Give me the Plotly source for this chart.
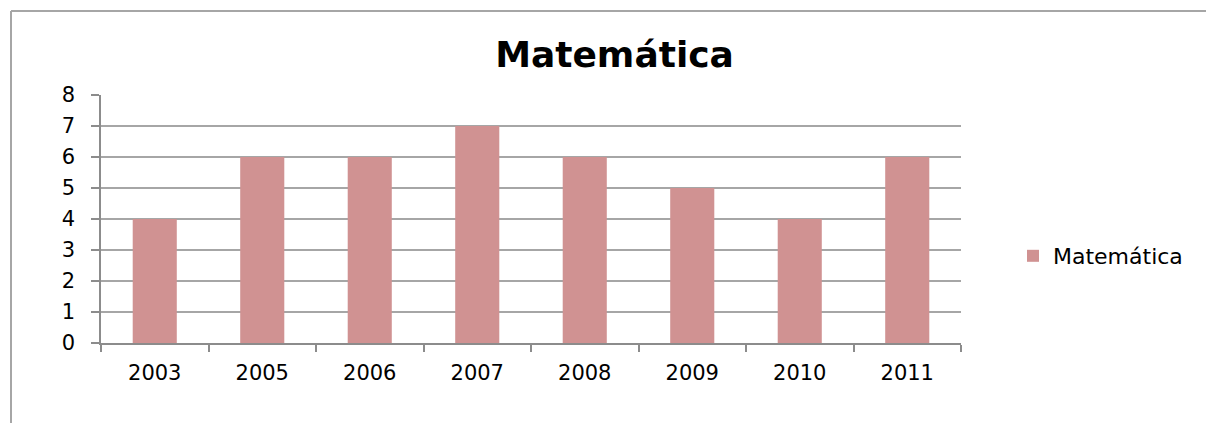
import plotly.graph_objects as go

years = ["2003", "2005", "2006", "2007", "2008", "2009", "2010", "2011"]
values = [4, 6, 6, 7, 6, 5, 4, 6]
series_name = "Matemática"

W, H = 1206, 423
L, R, T, B = 101, 961, 95, 343

fig = go.Figure(go.Bar(x=years, y=values, name=series_name,
                       marker=dict(color="#D09292", line=dict(width=0))))

def px_x(px):
    return (px - L) / (R - L)

def px_y(py):
    return (B - py) / (B - T)

frame = "#A6A6A6"
fig.add_shape(type="line", xref="paper", yref="paper",
              x0=px_x(11), x1=px_x(1212), y0=px_y(11), y1=px_y(11),
              line=dict(color=frame, width=2))
fig.add_shape(type="line", xref="paper", yref="paper",
              x0=px_x(11), x1=px_x(11), y0=px_y(11), y1=px_y(430),
              line=dict(color=frame, width=2))

font = "DejaVu Sans, Verdana, sans-serif"
fig.update_layout(
    width=W, height=H,
    margin=dict(l=L, r=W - R, t=T, b=H - B),
    plot_bgcolor="white", paper_bgcolor="white",
    bargap=0.59,
    showlegend=True,
    title=dict(text="<b>Matemática</b>", x=(489 + 740) / 2 / W, xanchor="center",
               y=1 - 54 / H, yanchor="middle",
               font=dict(family=font, size=36, color="black")),
    legend=dict(x=px_x(1013), y=px_y(256), xanchor="left", yanchor="middle",
                font=dict(family=font, size=22, color="black"),
                itemwidth=30, bgcolor="rgba(0,0,0,0)"),
    xaxis=dict(type="category", showgrid=False, showline=True,
               linecolor="#8C8C8C", linewidth=1.5,
               ticks="outside", ticklen=7, tickcolor="#8C8C8C", tickwidth=1.5,
               tickson="boundaries", ticklabelstandoff=10,
               tickfont=dict(family=font, size=21, color="black")),
    yaxis=dict(range=[0, 8], dtick=1, showgrid=True, gridcolor="#A6A6A6",
               gridwidth=1.5, showline=True, linecolor="#8C8C8C", linewidth=1.5,
               ticks="outside", ticklen=8, tickcolor="#8C8C8C", tickwidth=1.5,
               zeroline=False, ticklabelstandoff=12,
               tickfont=dict(family=font, size=21, color="black")),
)

fig.write_html(
    "out.html",
    config={"displayModeBar": False},
    post_script="document.body.style.margin='0';document.body.style.overflow='hidden';",
)
